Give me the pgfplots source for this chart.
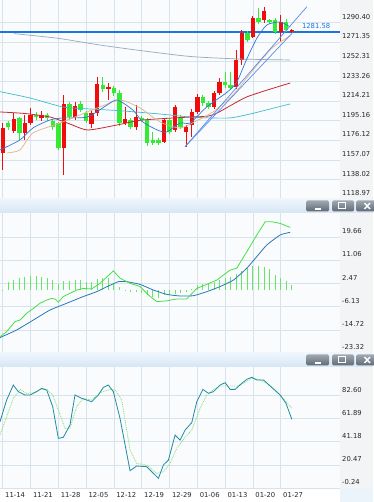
\documentclass[border=0pt]{standalone}
\usepackage{fontspec}
\setmainfont{DejaVu Sans}
\usepackage{pgfplots}
\pgfplotsset{compat=1.18}
\usepackage{pgfplotstable}

\definecolor{plotbg}{RGB}{249,251,253}
\definecolor{gridc}{RGB}{214,226,236}
\definecolor{labbg}{RGB}{243,244,245}
\definecolor{datebg}{RGB}{236,244,251}
\definecolor{labc}{RGB}{40,40,40}
\definecolor{bar1}{RGB}{238,245,252}
\definecolor{bar2}{RGB}{214,230,245}
\definecolor{btn1}{RGB}{160,168,176}
\definecolor{btn2}{RGB}{96,106,116}
\definecolor{candred}{RGB}{240,12,12}
\definecolor{candgreen}{RGB}{50,235,50}
\definecolor{levelblue}{RGB}{25,118,225}
\definecolor{trendblue}{RGB}{90,140,235}
\definecolor{ma5}{RGB}{50,120,210}
\definecolor{ma10}{RGB}{228,180,140}
\definecolor{ma20}{RGB}{200,40,50}
\definecolor{ma60}{RGB}{60,190,205}
\definecolor{ma120}{RGB}{150,170,190}
\definecolor{difc}{RGB}{70,225,70}
\definecolor{deac}{RGB}{40,120,185}
\definecolor{histc}{RGB}{100,232,100}
\definecolor{kc}{RGB}{30,140,165}
\definecolor{dc}{RGB}{130,220,110}

\pgfplotstableread{
i o h l c
0 1163.4 1192.5 1147.2 1187.6
2 1185.3 1202.5 1183.1 1196.4
4 1182.8 1200.6 1176.3 1192.5
5 1193.1 1207.4 1191.0 1200.6
7 1197.4 1204.0 1195.0 1200.6
11 1168.2 1220.0 1142.3 1211.3
13 1198.3 1213.5 1196.0 1209.3
16 1191.8 1205.0 1188.0 1202.8
17 1202.8 1237.8 1200.0 1230.7
19 1225.5 1231.7 1215.2 1227.5
22 1193.1 1208.6 1191.0 1196.4
24 1188.6 1210.3 1186.0 1198.3
29 1174.7 1198.0 1173.0 1195.7
31 1186.0 1210.3 1184.0 1208.6
33 1184.4 1191.0 1169.8 1189.2
34 1190.9 1206.0 1179.2 1203.8
35 1203.8 1221.0 1202.0 1218.4
38 1208.6 1224.0 1206.0 1221.7
39 1221.7 1236.0 1220.0 1232.9
42 1228.1 1263.7 1226.0 1254.0
43 1254.0 1283.1 1249.1 1279.9
45 1276.6 1297.0 1275.0 1294.5
47 1292.8 1305.7 1290.0 1301.9
50 1281.5 1297.7 1271.8 1291.2
52 1281.5 1284.0 1280.0 1283.1
}\upc

\pgfplotstableread{
i o h l c
1 1192.5 1194.7 1186.0 1188.9
3 1197.4 1199.0 1176.3 1182.8
6 1200.6 1203.5 1195.7 1198.6
8 1200.6 1202.5 1195.0 1197.4
9 1195.0 1197.0 1186.0 1188.6
10 1192.5 1194.0 1166.6 1168.2
12 1211.3 1213.0 1196.0 1199.0
14 1211.3 1214.0 1203.0 1205.4
15 1202.2 1204.0 1193.0 1195.0
18 1229.7 1237.5 1223.0 1225.5
20 1226.5 1229.0 1219.0 1221.7
21 1221.7 1225.0 1190.0 1192.5
23 1195.7 1198.0 1187.0 1189.2
25 1197.4 1200.0 1194.0 1195.7
26 1195.7 1198.0 1170.5 1173.7
27 1176.3 1184.4 1171.0 1173.1
28 1176.3 1178.0 1171.0 1173.1
30 1195.7 1197.0 1182.0 1184.4
32 1199.0 1201.0 1187.0 1189.2
36 1218.4 1220.0 1209.0 1212.0
37 1212.0 1214.0 1206.0 1208.6
40 1232.9 1242.6 1227.0 1229.7
41 1229.7 1242.3 1225.0 1226.5
44 1279.9 1282.0 1271.0 1273.4
46 1294.5 1304.2 1289.0 1291.2
48 1292.8 1294.0 1289.0 1291.2
49 1292.8 1295.0 1279.0 1281.5
51 1291.2 1294.0 1281.0 1283.1
}\dnc

\pgfplotsset{
  panel/.style={
    scale only axis, width=340pt, xmin=-0.486, xmax=60.66,
    axis background/.style={fill=plotbg},
    axis line style={draw=none},
    major tick length=0pt,
    tick style={draw=none},
    grid=major, major grid style={gridc, line width=0.5pt},
    xtick={0,5,...,50},
    yticklabel pos=right,
    yticklabel style={anchor=base west, inner sep=0pt, xshift=2pt, yshift=3.2pt, font=\fontsize{6.8}{8}\selectfont, text=labc},
  },
  wick/.style={draw=none, mark=none, forget plot,
    error bars/.cd, y dir=minus, y explicit, error mark=none,
    error bar style={draw=#1, solid, line width=0.9pt}},
  body/.style={draw=none, mark=none, forget plot,
    error bars/.cd, y dir=minus, y explicit, error mark=none,
    error bar style={draw=#1, solid, line width=4.4pt}},
}

\newcommand\winbar[1]{%
  \shade[top color=bar1, bottom color=bar2] (0,#1) rectangle (373,#1+14);
  \shade[rounded corners=1.5pt, top color=btn1, bottom color=btn2] (306,#1+1.5) rectangle (329,#1+12.5);
  \shade[rounded corners=1.5pt, top color=btn1, bottom color=btn2] (332,#1+1.5) rectangle (354,#1+12.5);
  \shade[rounded corners=1.5pt, top color=btn1, bottom color=btn2] (356,#1+1.5) rectangle (378,#1+12.5);
  \draw[white, line width=1.2pt] (314.5,#1+4) -- (320.5,#1+4);
  \draw[white, line width=1pt] (338.5,#1+4) rectangle (345.5,#1+10);
  \draw[white, line width=1.4pt] (364.5,#1+4) -- (370,#1+10) (364.5,#1+10) -- (370,#1+4);
}

\begin{document}
\begin{tikzpicture}[x=1pt,y=1pt]
\fill[white] (0,0) rectangle (373,502);
\path[use as bounding box] (0,0) rectangle (373,502);
\fill[labbg] (340,14) rectangle (373,502);
\fill[datebg] (340,0) rectangle (373,14);

% ---------- price panel ----------
\begin{axis}[panel, at={(0pt,303pt)}, anchor=south west, height=199pt,
  ymin=1118.97, ymax=1312.25,
  ytick={1118.97,1138.02,1157.07,1176.12,1195.16,1214.21,1233.26,1252.31,1271.35,1290.40},
  yticklabels={1118.97,1138.02,1157.07,1176.12,1195.16,1214.21,1233.26,1252.31,1271.35,1290.40},
  xticklabels={}]
% horizontal level (drawn under the candles and averages)
\addplot[draw=levelblue, line width=2pt, mark=none, forget plot] coordinates {(-0.486,1281.58) (10,1281.58) (20,1281.58) (30,1281.58) (40,1281.58) (50,1281.58) (60.66,1281.58)};
\addplot[wick=candred] table[x=i, y=h, y error minus expr=\thisrow{h}-\thisrow{l}] {\upc};
\addplot[body=candred] table[x=i, y=c, y error minus expr=\thisrow{c}-\thisrow{o}] {\upc};
\addplot[wick=candgreen] table[x=i, y=h, y error minus expr=\thisrow{h}-\thisrow{l}] {\dnc};
\addplot[body=candgreen] table[x=i, y=o, y error minus expr=\thisrow{o}-\thisrow{c}] {\dnc};
% moving averages
\addplot[draw=ma120, line width=0.7pt, smooth, tension=0.4] coordinates {(2,1279.6) (10,1275) (17.5,1268.5) (25,1263) (33.7,1257.4) (42.7,1254.9) (51.7,1254.0)};
\addplot[draw=ma60, line width=0.7pt, smooth, tension=0.4] coordinates {(-0.49,1223.2) (4.9,1217.1) (10.8,1208.4) (15.7,1206.4) (21.1,1204.7) (28.3,1201.5) (33.7,1198.6) (37.3,1197.7) (40.9,1197.7) (44.5,1201.5) (48.1,1206.4) (51.7,1211.3)};
\addplot[draw=ma20, line width=0.8pt, smooth, tension=0.4] coordinates {(-0.49,1203.5) (4,1202) (8.5,1198.6) (12,1192) (15.3,1186.0) (20.6,1190.9) (25.2,1195.7) (33.7,1198.6) (37.8,1200.6) (43.9,1218.1) (51.7,1231.6)};
\addplot[draw=ma10, line width=0.7pt, smooth, tension=0.4] coordinates {(0.77,1163.7) (3.1,1166.6) (5.45,1183.1) (10.3,1192.8) (17.5,1208.4) (21.1,1215.1) (24.7,1207.4) (28.3,1193.8) (31.9,1187.9) (34.9,1195.0) (37.8,1203.5) (41.4,1220.0) (45.0,1244.0) (48.1,1263.7) (49.9,1271.5) (51.7,1277.3)};
\addplot[draw=ma5, line width=0.7pt, smooth, tension=0.4] coordinates {(-0.49,1166.6) (3.1,1176.3) (5.45,1188.0) (8.5,1195.7) (10.8,1197.7) (15.2,1198.6) (18.8,1210.3) (20.6,1215.2) (23.4,1205.4) (25.2,1193.8) (27.8,1186.0) (29.5,1184.1) (31.9,1192.8) (33.7,1192.8) (36.7,1208.4) (40.4,1222.9) (42.1,1232.6) (43.9,1255.0) (45.7,1275.0) (47.5,1288.0) (49.9,1290.9) (51.7,1286.0)};
% trend lines
\addplot[draw=trendblue, line width=0.7pt] coordinates {(32.8,1169.8) (54.7,1305.7)};
\addplot[draw=trendblue, line width=0.7pt] coordinates {(32.8,1169.8) (52.3,1281.5)};
\node[anchor=base west, inner sep=0pt, text=levelblue, font=\fontsize{6.8}{8}\selectfont] at (axis cs:53.8,1281.58) [yshift=3.5pt] {1281.58};
\end{axis}

% ---------- MACD panel ----------
\begin{axis}[panel, at={(0pt,149pt)}, anchor=south west, height=140pt,
  ymin=-23.32, ymax=28.55,
  ytick={-23.32,-14.72,-6.13,2.47,11.06,19.66},
  yticklabels={-23.32,-14.72,-6.13,2.47,11.06,19.66},
  xticklabels={}]
\addplot[ycomb, draw=histc, line width=0.9pt, mark=none] coordinates {
(0,0.2) (1,2.8) (2,3.7) (3,4.3) (4,4.9) (5,5.3) (6,5.2) (7,4.9) (8,4.3) (9,3.7)
(10,2.1) (11,3.3) (12,3.3) (13,3.7) (14,3.7) (15,2.8) (16,2.8) (17,4.1) (18,4.3) (19,4.3)
(20,2.5) (21,1.2) (22,-0.5) (23,-0.8) (24,-0.8) (25,-1.0) (26,-2.0) (27,-2.5) (28,-3.0) (29,-2.0)
(30,-1.8) (31,-1.3) (32,-1.2) (33,-0.8) (34,0.3) (35,2.0) (36,2.3) (37,2.5) (38,2.8) (39,3.7)
(40,4.3) (41,4.9) (42,5.8) (43,7.0) (44,8.2) (45,9.0) (46,9.0) (47,8.6) (48,7.7) (49,5.6)
(50,4.6) (51,3.3) (52,1.9)};
\addplot[draw=deac, line width=0.8pt, smooth, tension=0.3] coordinates {
(-0.49,-17.6) (2.51,-14.8) (5.51,-11.1) (8.51,-7.4) (11.5,-4.9) (14.5,-2.4) (16.9,-0.6) (18.7,1.2) (20.8,3.1) (22.3,3.1) (24.7,2.1) (27.1,0.0) (29.5,-1.6) (31.9,-2.2) (34.3,-2.1) (36.7,-0.6) (39.1,1.3) (41.5,3.7) (43.9,8.1) (45.7,12.4) (47.5,16.7) (49.9,20.4) (51.7,21.4)};
\addplot[draw=difc, line width=0.8pt] coordinates {
(-0.49,-17.3) (0.71,-15.4) (2.21,-11.7) (3.11,-11.1) (4.31,-8.6) (5.51,-6.8) (6.71,-4.9) (7.91,-3.7) (8.81,-3.1) (9.41,-3.3) (10.0,-4.5) (10.9,-2.4) (12.1,-1.2) (13.3,0.0) (14.5,0.6) (16.0,0.4) (17.5,2.5) (19.9,7.1) (21.1,4.4) (22.9,2.5) (24.7,1.3) (26.2,-1.8) (27.7,-4.3) (29.5,-4.0) (31.3,-3.3) (33.1,-3.3) (34.9,0.6) (36.7,2.1) (38.5,3.7) (40.9,7.4) (42.1,8.1) (43.9,14.2) (45.7,20.4) (47.2,25.3) (48.4,25.3) (49.9,24.7) (51.7,23.2)};
\end{axis}

% ---------- Stochastic panel ----------
\begin{axis}[panel, at={(0pt,14pt)}, anchor=south west, height=121pt,
  ymin=-0.24, ymax=107.8,
  ytick={-0.24,20.47,41.18,61.89,82.60},
  yticklabels={-0.24,20.47,41.18,61.89,82.60},
  xticklabels={11-14,11-21,11-28,12-05,12-12,12-19,12-29,01-06,01-13,01-20,01-27},
  xticklabel style={anchor=base west, inner sep=0pt, xshift=2.3pt, yshift=-9.5pt, font=\fontsize{6.8}{8}\selectfont, text=labc}]
\addplot[draw=dc, line width=0.8pt, densely dotted] coordinates {
(-0.49,47.06) (0.71,63.4) (1.91,79.8) (3.11,87.8) (4.31,84.2) (5.51,84.9) (6.71,87.8) (7.91,87.8) (8.99,82.8) (10.0,69.4) (11.2,53.0) (12.1,53.0) (13.3,72.4) (14.5,79.8) (16.0,78.3) (17.5,84.9) (19.3,87.8) (20.2,87.2) (21.4,78.3) (22.9,33.7) (24.1,21.7) (25.9,20.3) (27.7,12.8) (28.9,14.3) (30.1,21.7) (31.3,35.2) (32.8,45.0) (34.0,51.5) (35.5,70.9) (36.7,82.8) (38.2,88.7) (39.1,90.8) (40.9,90.8) (42.1,90.8) (43.3,93.2) (44.8,97.7) (46.0,96.8) (47.5,93.2) (48.7,88.7) (49.9,82.8) (52.0,70.9)};
\addplot[draw=kc, line width=0.8pt] coordinates {
(-0.49,58.97) (0.71,78.3) (1.91,91.7) (2.81,85.75) (4.01,82.8) (4.91,82.8) (6.11,85.75) (7.01,88.7) (7.91,87.2) (8.99,72.4) (10.01,44.1) (10.9,45.0) (12.1,56.0) (13.0,82.8) (14.2,79.8) (16.0,76.8) (17.2,82.8) (18.1,89.6) (19.0,91.7) (19.9,85.75) (21.1,61.9) (22.9,15.2) (24.1,19.4) (25.9,18.8) (28.0,8.4) (28.9,20.3) (29.8,24.7) (31.0,47.06) (31.9,42.6) (32.8,51.5) (34.0,58.1) (34.9,76.8) (36.0,87.8) (37.0,84.3) (37.9,85.75) (39.1,91.7) (40.0,93.8) (40.9,87.8) (41.8,87.8) (43.0,93.2) (43.9,96.8) (44.8,98.6) (45.7,96.2) (46.9,96.2) (48.1,90.8) (49.9,82.8) (50.95,75.3) (52.0,61.05)};
\end{axis}

\winbar{289}
\winbar{135}
\end{tikzpicture}
\end{document}
